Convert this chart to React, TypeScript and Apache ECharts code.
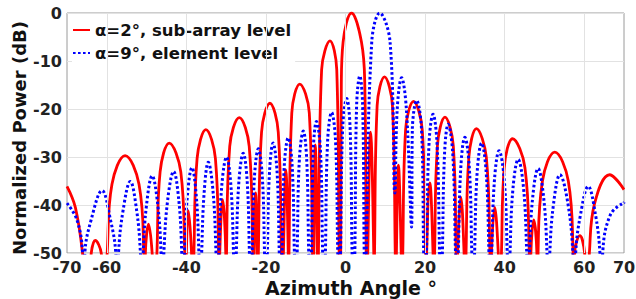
import React, { useEffect, useRef } from "react";
import * as echarts from "echarts";

// Azimuth angle (deg), normalized power (dB)
const redPattern: [number, number][] = [
  [-70, -36.1], [-67.9, -40.5], [-66.1, -50], [-65.0, -62],
  [-63.9, -50], [-62.9, -47.4], [-61.4, -50], [-60.6, -62],
  [-59.9, -50], [-58.7, -35.7], [-55.4, -29.7], [-51.9, -35.7], [-50.7, -50], [-50.5, -62],
  [-50.3, -50], [-49.5, -44.0], [-48.6, -50], [-48.0, -62],
  [-47.4, -50], [-46.6, -33.1], [-44.3, -27.1], [-41.4, -33.1], [-40.4, -50], [-40.2, -62],
  [-40.0, -50], [-39.5, -41.2], [-38.7, -50], [-38.4, -62],
  [-38.1, -50], [-37.3, -30.3], [-35.1, -24.3], [-32.7, -30.3], [-31.9, -50], [-31.8, -62],
  [-31.6, -50], [-30.9, -38.9], [-30.1, -50], [-30.0, -62],
  [-29.9, -50], [-29.1, -27.8], [-26.7, -21.8], [-24.2, -27.8], [-23.3, -50], [-23.15, -62],
  [-23.0, -50], [-22.6, -37.5], [-22.2, -50], [-22.05, -62],
  [-21.9, -50], [-21.1, -24.8], [-19.0, -18.8], [-16.9, -24.8], [-16.1, -50], [-15.85, -62],
  [-15.6, -50], [-15.0, -32.7], [-14.4, -50], [-14.3, -62],
  [-14.2, -50], [-13.5, -20.8], [-11.5, -14.8], [-9.1, -20.8], [-8.3, -50], [-8.15, -62],
  [-8.0, -50], [-7.6, -27.5], [-7.1, -50], [-6.95, -62],
  [-6.8, -50], [-6.0, -11.8], [-3.9, -5.8], [-2.2, -11.8], [-1.6, -50], [-1.4, -62],
  [-1.2, -50], [-1.05, -15], [-0.6, -6], [1.5, 0], [4.0, -6], [4.85, -15], [5.2, -50], [5.4, -62],
  [5.6, -50], [6.3, -24.8], [7.1, -50], [7.2, -62],
  [7.3, -50], [7.95, -19.3], [9.8, -13.3], [11.8, -19.3], [12.5, -50], [12.65, -62],
  [12.8, -50], [13.3, -31.7], [14.0, -50], [14.2, -62],
  [14.4, -50], [15.1, -24.4], [17.1, -18.4], [19.3, -24.4], [20.1, -50], [20.25, -62],
  [20.4, -50], [21.2, -35.4], [22.0, -50], [22.2, -62],
  [22.4, -50], [23.1, -27.7], [25.0, -21.7], [27.1, -27.7], [27.8, -50], [28.0, -62],
  [28.2, -50], [29.0, -38.4], [29.8, -50], [30.05, -62],
  [30.3, -50], [31.0, -30.1], [32.9, -24.1], [35.4, -30.1], [36.3, -50], [36.5, -62],
  [36.7, -50], [37.5, -40.5], [38.4, -50], [38.8, -62],
  [39.2, -50], [39.9, -32.2], [42.0, -26.2], [45.1, -32.2], [46.2, -50], [46.4, -62],
  [46.6, -50], [47.3, -43.1], [48.1, -50], [48.25, -62],
  [48.4, -50], [49.5, -35.0], [52.6, -29.0], [56.0, -35.0], [57.2, -50], [57.4, -62],
  [57.6, -50], [58.9, -46.4], [60.1, -50], [60.7, -62],
  [61.3, -50], [62.6, -39.7], [66.4, -33.7], [70, -36.8],
];

const bluePattern: [number, number][] = [
  [-70, -39.6], [-67.5, -43.1], [-66.1, -50], [-65.8, -62], [-65.5, -50],
  [-63.9, -43.0], [-61.2, -37.0], [-59.1, -43.0], [-57.75, -50], [-57.4, -62], [-57.05, -50],
  [-55.9, -41.1], [-54.1, -35.1], [-52.5, -41.1], [-51.55, -50], [-51.2, -62], [-50.85, -50],
  [-50.0, -39.9], [-48.6, -33.9], [-47.2, -39.9], [-46.35, -50], [-46.0, -62], [-45.65, -50],
  [-44.7, -39.0], [-43.2, -33.0], [-41.9, -39.0], [-41.15, -50], [-40.8, -62], [-40.45, -50],
  [-39.75, -38.2], [-38.6, -32.2], [-37.5, -38.2], [-36.85, -50], [-36.5, -62], [-36.15, -50],
  [-35.5, -37.1], [-34.5, -31.1], [-33.3, -37.1], [-32.55, -50], [-32.2, -62], [-31.85, -50],
  [-31.1, -36.0], [-29.9, -30.0], [-28.8, -36.0], [-28.15, -50], [-27.8, -62], [-27.45, -50],
  [-26.8, -35.2], [-25.7, -29.2], [-24.7, -35.2], [-24.15, -50], [-23.8, -62], [-23.45, -50],
  [-22.9, -34.3], [-21.9, -28.3], [-20.9, -34.3], [-20.35, -50], [-20.0, -62], [-19.65, -50],
  [-19.1, -33.1], [-18.2, -27.1], [-17.2, -33.1], [-16.65, -50], [-16.3, -62], [-15.95, -50],
  [-15.4, -32.0], [-14.4, -26.0], [-13.4, -32.0], [-12.85, -50], [-12.5, -62], [-12.15, -50],
  [-11.6, -30.6], [-10.6, -24.6], [-9.75, -30.6], [-9.25, -50], [-8.9, -62], [-8.55, -50],
  [-8.1, -28.6], [-7.3, -22.6], [-6.3, -28.6], [-5.75, -50], [-5.4, -62], [-5.05, -50],
  [-4.5, -26.7], [-3.5, -20.7], [-2.5, -26.7], [-1.95, -50], [-1.6, -62], [-1.25, -50],
  [-0.7, -23.8], [0.3, -17.8], [1.15, -23.8], [1.65, -50], [2.0, -62], [2.35, -50],
  [2.8, -19.1], [3.6, -13.1], [4.3, -19.1], [4.7, -50], [4.95, -62], [5.2, -50],
  [6.6, -6], [8.6, 0], [11.2, -6], [12.4, -37.5],
  [13.0, -20.0], [14.1, -13.5], [15.3, -20.0], [16.6, -44.6],
  [16.8, -24.2], [17.9, -18.2], [19.1, -24.2], [19.65, -50], [20.0, -62], [20.35, -50],
  [21.0, -27.1], [22.0, -21.1], [23.0, -27.1], [23.65, -50], [24.0, -62], [24.35, -50],
  [24.9, -29.2], [25.8, -23.2], [26.95, -29.2], [27.65, -50], [28.0, -62], [28.35, -50],
  [29.0, -31.9], [30.0, -25.9], [31.1, -31.9], [31.75, -50], [32.1, -62], [32.45, -50],
  [33.1, -33.1], [34.2, -27.1], [35.35, -33.1], [36.05, -50], [36.4, -62], [36.75, -50],
  [37.45, -34.7], [38.6, -28.7], [39.9, -34.7], [40.65, -50], [41.0, -62], [41.35, -50],
  [42.1, -36.5], [43.4, -30.5], [44.75, -36.5], [45.55, -50], [45.9, -62], [46.25, -50],
  [47.05, -38.4], [48.4, -32.4], [49.8, -38.4], [50.65, -50], [51.0, -62], [51.35, -50],
  [52.3, -39.7], [53.9, -33.7], [55.9, -39.7], [57.15, -50], [57.5, -62], [57.85, -50],
  [59.05, -42.1], [61.0, -36.1], [62.85, -42.1], [63.95, -50], [64.3, -62], [64.65, -50],
  [66.6, -42.0], [70, -39.5],
];

const xTickLabels = [-70, -60, -40, -20, 0, 20, 40, 60, 70];
const xGridLines = [-60, -40, -20, 0, 20, 40, 60];
const seriesNames = ["α=2°, sub-array level", "α=9°, element level"];
const yAxisTitle = "Normalized Power (dB)";
const xAxisTitle = "Azimuth Angle °";

const FONT = "DejaVu Sans";

export default function App() {
  const ref = useRef<HTMLDivElement>(null);
  useEffect(() => {
    if (!ref.current) return;
    const chart = echarts.init(ref.current, null, { renderer: "svg" });
    chart.setOption({
      animation: false,
      backgroundColor: "#ffffff",
      grid: {
        left: 67,
        right: 12,
        top: 13,
        bottom: 46,
        containLabel: false,
        outerBoundsMode: "none",
        show: true,
        borderColor: "#9a9a9a",
        borderWidth: 1,
        backgroundColor: "#ffffff",
      },
      graphic: [
        {
          type: "text",
          x: 19,
          y: 138,
          rotation: Math.PI / 2,
          style: {
            text: yAxisTitle,
            fontFamily: FONT,
            fontWeight: "bold",
            fontSize: 18,
            fill: "#111",
            textAlign: "center",
            textVerticalAlign: "middle",
          },
        },
        {
          type: "text",
          x: 351,
          y: 288,
          style: {
            text: xAxisTitle,
            fontFamily: FONT,
            fontWeight: "bold",
            fontSize: 19,
            fill: "#111",
            textAlign: "center",
            textVerticalAlign: "middle",
          },
        },
      ],
      legend: {
        data: seriesNames,
        orient: "vertical",
        left: 72,
        top: 21,
        padding: [0, 4, 0, 0],
        itemWidth: 17,
        itemHeight: 10,
        itemGap: 5,
        backgroundColor: "#ffffff",
        itemStyle: { opacity: 0 },
        textStyle: {
          fontFamily: FONT,
          fontWeight: "bold",
          fontSize: 16.5,
          color: "#111",
          lineHeight: 18,
        },
      },
      xAxis: {
        type: "value",
        min: -70,
        max: 70,
        interval: 10,
        axisLine: { show: false, onZero: false },
        axisTick: { show: false },
        splitLine: { show: false },
        axisLabel: {
          margin: 6,
          fontFamily: FONT,
          fontWeight: "bold",
          fontSize: 16,
          color: "#222",
          formatter: (v: number) => (xTickLabels.includes(v) ? String(v) : ""),
        },
      },
      yAxis: {
        type: "value",
        min: -50,
        max: 0,
        interval: 10,
        axisLine: { show: false, onZero: false },
        axisTick: { show: false },
        splitLine: { show: true, lineStyle: { color: "#e2e2e2", width: 1 } },
        axisLabel: {
          margin: 5,
          fontFamily: FONT,
          fontWeight: "bold",
          fontSize: 16,
          color: "#222",
        },
      },
      series: [
        {
          name: "gridlines",
          type: "line",
          data: [],
          z: 1,
          silent: true,
          markLine: {
            silent: true,
            symbol: ["none", "none"],
            label: { show: false },
            lineStyle: { color: "#e2e2e2", type: "solid", width: 1 },
            data: xGridLines.map((v) => ({ xAxis: v })),
          },
        },
        {
          name: seriesNames[0],
          type: "line",
          data: redPattern,
          symbol: "none",
          showSymbol: false,
          smooth: 0.4,
          clip: true,
          z: 3,
          lineStyle: { color: "#ff0000", width: 2.8 },
          itemStyle: { color: "#ff0000" },
        },
        {
          name: seriesNames[1],
          type: "line",
          data: bluePattern,
          symbol: "none",
          showSymbol: false,
          smooth: 0.4,
          clip: true,
          z: 4,
          lineStyle: { color: "#0000ff", width: 3, type: [2.6, 2.4] },
          itemStyle: { color: "#0000ff" },
        },
      ],
    });
    return () => chart.dispose();
  }, []);
  return (
    <div
      ref={ref}
      style={{ position: "fixed", left: 0, top: 0, width: 636, height: 299, background: "#fff" }}
    />
  );
}
